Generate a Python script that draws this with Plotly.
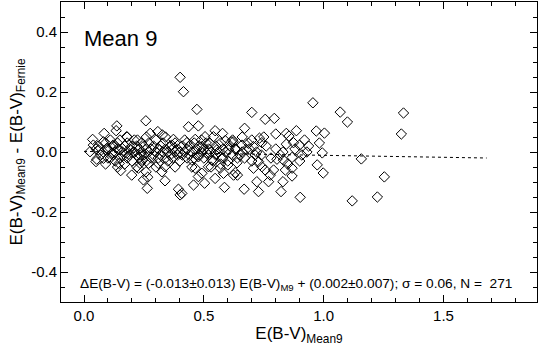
import plotly.graph_objects as go

# E(B-V) from the Mean 9 scale and the difference Mean9 - Fernie
ebv_mean9 = [
    0.401, 0.415, 0.955, 1.069, 1.099, 1.333, 1.324, 0.969, 1.003, 0.982, 0.994, 0.973, 0.998,
    1.157, 1.253, 1.224, 1.119,
    0.700, 0.756, 0.794, 0.670, 0.844, 0.886, 0.855, 0.874, 0.844, 0.899, 0.937, 0.622, 0.635,
    0.659, 0.677, 0.686, 0.707, 0.732, 0.742, 0.652, 0.714, 0.819, 0.805, 0.832, 0.868, 0.909,
    0.638, 0.728, 0.742, 0.707, 0.756, 0.791, 0.868, 0.631, 0.640, 0.777, 0.868, 0.721, 0.770,
    0.830, 0.668, 0.728, 0.822, 0.902, 0.408,
    0.471, 0.436, 0.477, 0.258, 0.276, 0.308, 0.327, 0.373, 0.366, 0.429, 0.464, 0.505, 0.547,
    0.540, 0.578, 0.589, 0.614, 0.526, 0.492, 0.477, 0.513, 0.554, 0.603, 0.533, 0.575, 0.450,
    0.464, 0.519, 0.568, 0.600, 0.310, 0.338, 0.325, 0.477, 0.547, 0.582, 0.266, 0.338, 0.503,
    0.586, 0.394, 0.401, 0.624,
    0.137, 0.134, 0.084, 0.036, 0.081, 0.178, 0.223, 0.039, 0.060, 0.095, 0.122, 0.025, 0.053,
    0.050, 0.081, 0.116, 0.150, 0.178, 0.206, 0.234, 0.147, 0.153, 0.234, 0.199, 0.227, 0.259,
    0.248, 0.264, 0.245, 0.492, 0.457, 0.269,
    # dense band near zero
    0.06, 0.07, 0.08, 0.09, 0.10, 0.10, 0.11, 0.12, 0.12, 0.13, 0.13, 0.14, 0.14, 0.15, 0.15,
    0.16, 0.16, 0.17, 0.17, 0.18, 0.18, 0.19, 0.19, 0.20, 0.20, 0.21, 0.21, 0.22, 0.22, 0.23,
    0.23, 0.24, 0.24, 0.25, 0.25, 0.26, 0.26, 0.27, 0.27, 0.28, 0.28, 0.29, 0.29, 0.30, 0.30,
    0.31, 0.31, 0.32, 0.32, 0.33, 0.33, 0.34, 0.34, 0.35, 0.35, 0.36, 0.36, 0.37, 0.37, 0.38,
    0.38, 0.39, 0.39, 0.40, 0.40, 0.41, 0.41, 0.42, 0.43, 0.43, 0.44, 0.44, 0.45, 0.46, 0.46,
    0.47, 0.48, 0.48, 0.49, 0.50, 0.50, 0.51, 0.52, 0.52, 0.53, 0.54, 0.55, 0.55, 0.56, 0.57,
    0.58, 0.58, 0.59, 0.60, 0.61, 0.62, 0.63, 0.64, 0.66, 0.67, 0.69, 0.70, 0.72, 0.74, 0.76,
    0.78, 0.80, 0.83, 0.85, 0.88, 0.90, 0.93, 0.05, 0.09, 0.11, 0.14, 0.18, 0.22, 0.26, 0.30,
    0.34, 0.38, 0.42, 0.45, 0.49, 0.53, 0.57, 0.62, 0.66, 0.70, 0.75, 0.80, 0.84, 0.92,
]
delta_ebv = [
    0.249, 0.201, 0.164, 0.133, 0.100, 0.130, 0.060, 0.070, 0.063, 0.030, -0.003, -0.043, -0.070,
    -0.023, -0.083, -0.150, -0.163,
    0.132, 0.109, 0.112, 0.079, 0.062, 0.071, 0.053, 0.031, 0.026, 0.023, 0.020, 0.034, 0.009,
    0.023, 0.009, 0.029, 0.018, 0.046, 0.031, -0.010, -0.010, -0.010, -0.024, -0.027, -0.018, -0.010,
    -0.036, -0.032, -0.049, -0.054, -0.060, -0.060, -0.054, -0.069, -0.077, -0.077, -0.080, -0.099, -0.099,
    -0.099, -0.124, -0.132, -0.132, -0.151, -0.138,
    0.142, 0.084, 0.087, 0.104, 0.062, 0.068, 0.057, 0.042, 0.023, 0.031, 0.042, 0.051, 0.071,
    0.051, 0.062, 0.038, 0.034, 0.029, 0.018, -0.016, -0.004, 0.007, 0.007, -0.027, -0.021, -0.027,
    -0.054, -0.049, -0.054, -0.043, -0.038, -0.049, -0.066, -0.082, -0.088, -0.071, -0.084, -0.096, -0.104,
    -0.118, -0.124, -0.143, -0.077,
    0.087, 0.071, 0.062, 0.042, 0.034, 0.051, 0.040, 0.023, 0.007, 0.012, 0.023, 0.001, -0.024,
    -0.032, -0.021, -0.004, 0.007, -0.004, 0.001, -0.010, -0.038, -0.062, -0.038, -0.077, -0.054, -0.066,
    -0.093, -0.121, -0.027, -0.071, -0.110, -0.038,
    # dense band near zero
    0.02, -0.01, 0.00, 0.03, -0.02, 0.01, 0.04, -0.01, 0.02, 0.00, -0.03, 0.03, 0.01, -0.02, 0.04,
    0.00, -0.01, 0.02, -0.04, 0.03, -0.02, 0.01, -0.01, 0.02, -0.03, 0.00, 0.04, -0.01, 0.02, 0.01,
    -0.02, 0.03, 0.00, -0.01, 0.02, 0.01, -0.03, 0.00, 0.03, -0.02, 0.01, 0.02, -0.01, 0.00, 0.04,
    -0.02, 0.01, 0.02, -0.01, 0.00, 0.03, -0.02, 0.01, 0.00, -0.03, 0.02, -0.01, 0.01, -0.02, 0.00,
    0.03, -0.01, 0.01, 0.00, -0.03, 0.02, -0.01, 0.00, -0.02, 0.01, 0.02, -0.01, 0.00, 0.03, -0.02,
    0.01, -0.01, 0.02, 0.00, -0.02, 0.01, 0.03, -0.01, 0.01, 0.00, -0.03, 0.02, -0.01, 0.00, 0.03,
    -0.02, 0.01, 0.00, -0.03, 0.02, -0.01, 0.01, -0.02, 0.00, -0.02, 0.01, -0.03, 0.00, -0.01, 0.02,
    -0.02, 0.01, 0.00, -0.04, 0.01, -0.03, 0.00, 0.01, -0.04, -0.02, -0.05, 0.05, -0.05, 0.05, -0.05,
    0.05, -0.05, 0.04, -0.05, 0.04, -0.05, -0.04, 0.04, 0.05, 0.04, 0.05, 0.06, -0.06, 0.04,
]

# fitted relation, dotted
fit_x = [0.0, 1.68]
fit_y = [0.002, -0.020]

x_ticks = [0.0, 0.5, 1.0, 1.5]
x_labels = ["0.0", "0.5", "1.0", "1.5"]
y_ticks = [-0.4, -0.2, 0.0, 0.2, 0.4]
y_labels = ["-0.4", "-0.2", "0.0", "0.2", "0.4"]

FONT = "Liberation Sans, Arial, Helvetica, sans-serif"


def main():
    fig = go.Figure()
    fig.add_trace(go.Scatter(x=fit_x, y=fit_y, mode="lines",
                             line=dict(color="black", width=1, dash="dot"),
                             hoverinfo="skip", showlegend=False))
    fig.add_trace(go.Scatter(x=ebv_mean9, y=delta_ebv, mode="markers",
                             marker=dict(symbol="diamond-open", size=8, color="black",
                                         line=dict(width=1, color="black")),
                             showlegend=False))

    axis_common = dict(showline=True, linecolor="black", linewidth=1, mirror="ticks",
                       ticks="inside", ticklen=7, tickcolor="black", showgrid=False,
                       zeroline=False, automargin=False,
                       tickfont=dict(size=15, color="black"))
    fig.update_xaxes(range=[-0.096, 1.89], tickvals=x_ticks, ticktext=x_labels,
                     minor=dict(dtick=0.1, ticks="inside", ticklen=4, tickcolor="black"),
                     title=dict(text="E(B-V)<sub>Mean9</sub>", font=dict(size=17), standoff=0),
                     **axis_common)
    fig.update_yaxes(range=[-0.5, 0.5], tickvals=y_ticks, ticktext=y_labels,
                     minor=dict(dtick=0.05, ticks="inside", ticklen=4, tickcolor="black"),
                     title=dict(text="E(B-V)<sub>Mean9</sub> - E(B-V)<sub>Fernie</sub>",
                                font=dict(size=17), standoff=4),
                     **axis_common)

    fig.add_annotation(text="Mean 9", xref="paper", yref="paper", x=0.044, y=0.925,
                       xanchor="left", yanchor="top", showarrow=False,
                       font=dict(size=22, color="black"))
    fig.add_annotation(text="ΔE(B-V) = (-0.013±0.013) E(B-V)<sub>M9</sub> + (0.002±0.007); σ = 0.06, N =  271",
                       xref="paper", yref="paper", x=0.494, y=0.06,
                       xanchor="center", yanchor="middle", showarrow=False,
                       font=dict(size=13.7, color="black"))

    fig.update_layout(width=539, height=347, margin=dict(l=61, r=2, t=2, b=45),
                      plot_bgcolor="white", paper_bgcolor="white",
                      font=dict(family=FONT, color="black"))
    # page body has a default margin; drop it so the figure sits at the corner
    fig.write_html("out.html", config={"displayModeBar": False},
                   post_script="document.body.style.margin='0';")


if __name__ == "__main__":
    main()
